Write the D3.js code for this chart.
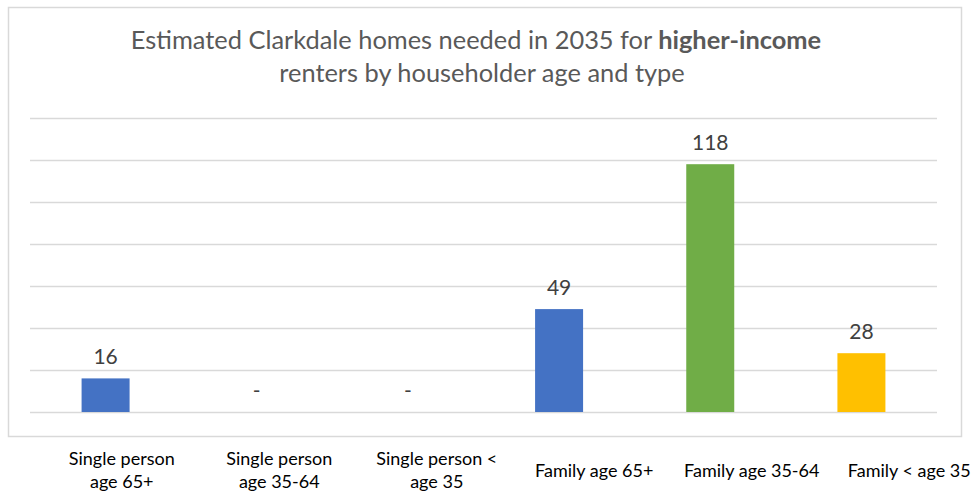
<!DOCTYPE html>
<html>
<head>
<meta charset="utf-8">
<script src="https://cdn.jsdelivr.net/npm/d3@7"></script>
<style>
  html, body { margin: 0; padding: 0; background: #fff; }
  svg { display: block; }
</style>
</head>
<body>
<svg id="chart" width="973" height="493"></svg>
<script>
// Household categories along the x axis
const categories = [
  "Single person age 65+",
  "Single person age 35-64",
  "Single person < age 35",
  "Family age 65+",
  "Family age 35-64",
  "Family < age 35"
];
// Tick label lines as wrapped under each category
const tickLabelLines = [
  ["Single person", "age 65+"],
  ["Single person", "age 35-64"],
  ["Single person <", "age 35"],
  ["Family age 65+"],
  ["Family age 35-64"],
  ["Family < age 35"]
];
// Estimated homes needed in 2035 (higher-income renters)
const homesNeeded = [16, 0, 0, 49, 118, 28];
// Bar fill by householder age group
const barColors = ["#4472C4", "#70AD47", "#FFC000", "#4472C4", "#70AD47", "#FFC000"];
// Gridline values
const gridTicks = [0, 20, 40, 60, 80, 100, 120, 140];

const svg = d3.select("#chart");
const fontFamily = "Lato, 'Open Sans', sans-serif";

// Chart area outline
svg.append("rect")
  .attr("x", 8.5).attr("y", 7.5)
  .attr("width", 953).attr("height", 429)
  .attr("fill", "#fff")
  .attr("stroke", "#d9d9d9")
  .attr("stroke-width", 1.5);

// Title
const title = svg.append("text")
  .attr("x", 478)
  .attr("text-anchor", "middle")
  .attr("fill", "#595959")
  .style("font-family", fontFamily)
  .style("font-size", "25.4px");
const line1 = title.append("tspan").attr("x", 476).attr("y", 49);
line1.append("tspan").text("Estimated Clarkdale homes needed in 2035 for ");
line1.append("tspan").attr("font-weight", "bold").text("higher-income");
title.append("tspan").attr("x", 482).attr("y", 82).text("renters by householder age and type");

// Scales
const plotLeft = 30, plotRight = 937, plotTop = 118, plotBottom = 412;

const x = d3.scaleBand()
  .domain(categories)
  .range([plotLeft, plotRight])
  .paddingInner(0.6825)
  .paddingOuter(0.34125);

const y = d3.scaleLinear()
  .domain([0, 140])
  .range([plotBottom, plotTop]);

// Category label positions
const xLabel = d3.scaleBand()
  .domain(categories)
  .range([43, 988]);

// Gridlines
const grid = d3.axisLeft(y)
  .tickValues(gridTicks)
  .tickSize(-(plotRight - plotLeft))
  .tickFormat("");
svg.append("g")
  .attr("transform", `translate(${plotLeft},0)`)
  .call(grid)
  .call(g => g.select(".domain").remove())
  .call(g => g.selectAll(".tick line")
    .attr("stroke", "#d9d9d9")
    .attr("stroke-width", 1.5));

// Bars
svg.append("g")
  .selectAll("rect")
  .data(categories)
  .join("rect")
  .attr("x", d => x(d))
  .attr("width", x.bandwidth())
  .attr("y", (d, i) => y(homesNeeded[i]))
  .attr("height", (d, i) => y(0) - y(homesNeeded[i]))
  .attr("fill", (d, i) => barColors[i]);

// Data labels
svg.append("g")
  .selectAll("text")
  .data(categories)
  .join("text")
  .attr("x", d => x(d) + x.bandwidth() / 2)
  .attr("y", (d, i) => y(homesNeeded[i]) - 14)
  .attr("text-anchor", "middle")
  .attr("fill", "#404040")
  .style("font-family", fontFamily)
  .style("font-size", "21px")
  .text((d, i) => homesNeeded[i] === 0 ? "-" : homesNeeded[i]);

// Category tick labels
const lineGap = 23;
const labelCenterY = 476.5;
const tickLabels = svg.append("g")
  .selectAll("text")
  .data(categories)
  .join("text")
  .attr("text-anchor", "middle")
  .attr("fill", "#000")
  .style("font-family", fontFamily)
  .style("font-size", "18px");
tickLabels.each(function(d, i) {
  const lines = tickLabelLines[i];
  const cx = xLabel(d) + xLabel.bandwidth() / 2;
  const firstY = labelCenterY - (lines.length - 1) * lineGap / 2;
  d3.select(this).selectAll("tspan")
    .data(lines)
    .join("tspan")
    .attr("x", cx)
    .attr("y", (l, j) => firstY + j * lineGap)
    .text(l => l);
});
</script>
</body>
</html>
